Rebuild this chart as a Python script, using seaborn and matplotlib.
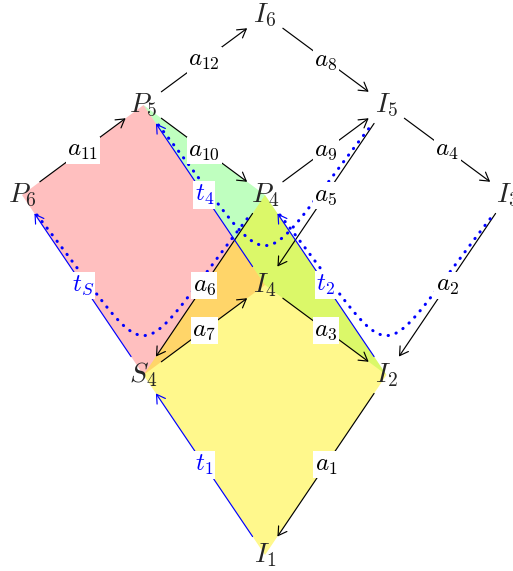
import numpy as np
import seaborn as sns
import matplotlib.pyplot as plt
from matplotlib.patches import Polygon

# node grid positions (columns / rows of the diagram)
node_names = ['I1', 'I2', 'I3', 'I4', 'I5', 'I6', 'P4', 'P5', 'P6', 'S4']
node_x = [2, 3, 4, 2, 3, 2, 2, 1, 0, 1]
node_y = [0, 2, 4, 3, 5, 6, 4, 5, 4, 2]
node_tex = ['$I_1$', '$I_2$', '$I_3$', '$I_4$', '$I_5$', '$I_6$', '$P_4$', '$P_5$', '$P_6$', '$S_4$']

# black edges
black_src = ['P5', 'I6', 'P6', 'P5', 'P4', 'I5', 'I5', 'I3', 'P4', 'S4', 'I4', 'I2']
black_dst = ['I6', 'I5', 'P5', 'P4', 'I5', 'I3', 'I4', 'I2', 'S4', 'I4', 'I2', 'I1']
black_lab = ['a_{12}', 'a_8', 'a_{11}', 'a_{10}', 'a_9', 'a_4', 'a_5', 'a_2', 'a_6', 'a_7', 'a_3', 'a_1']

# blue edges
blue_src = ['I1', 'S4', 'I4', 'I2']
blue_dst = ['S4', 'P6', 'P5', 'P4']
blue_lab = ['t_1', 't_S', 't_4', 't_2']

# shaded regions
pink_nodes = ['P6', 'P5', 'I4', 'S4']
green_nodes = ['P5', 'P4', 'I2', 'I4']
yellow_nodes = ['I1', 'S4', 'P4', 'I2']

# dotted U-shaped paths
curve_src = ['P6', 'P5', 'P4']
curve_dst = ['P4', 'I5', 'I3']

pos = {n: (x, y) for n, x, y in zip(node_names, node_x, node_y)}

sns.set_theme(style='white')
plt.rcParams['mathtext.fontset'] = 'cm'

fig = plt.figure(figsize=(5.13, 5.71), dpi=100)
ax = fig.add_axes([0, 0, 1, 1])
ax.set_xlim(-0.181, 4.041)
ax.set_ylim(-0.178, 6.167)
ax.axis('off')

for nodes, col, alpha in [(pink_nodes, (1, 0, 0), 0.25),
                          (green_nodes, (0, 1, 0), 0.25),
                          (yellow_nodes, (1, 0.94, 0), 0.45)]:
    ax.add_patch(Polygon([pos[n] for n in nodes], closed=True, facecolor=col,
                         alpha=alpha, edgecolor='none', zorder=1))


def edge(src, dst, lab, color):
    (x0, y0), (x1, y1) = pos[src], pos[dst]
    ax.annotate('', xy=(x1, y1), xytext=(x0, y0),
                arrowprops=dict(arrowstyle='->,head_length=0.5,head_width=0.3',
                                color=color, lw=0.85, shrinkA=16, shrinkB=16,
                                mutation_scale=12), zorder=3)
    ax.text((x0 + x1) / 2, (y0 + y1) / 2, f'${lab}$', color=color, fontsize=18,
            ha='center', va='center', zorder=5,
            bbox=dict(boxstyle='square,pad=0.06', fc='white', ec='none'))


for s, d, l in zip(black_src, black_dst, black_lab):
    edge(s, d, l, 'black')
for s, d, l in zip(blue_src, blue_dst, blue_lab):
    edge(s, d, l, 'blue')

# dotted curves: cubic beziers leaving each node at about -52 degrees
t = np.linspace(0, 1, 200)
for s, d in zip(curve_src, curve_dst):
    a = np.array(pos[s]) + [0.123, -0.222]
    b = np.array(pos[d]) + [-0.123, -0.222]
    c1 = a + [1.034, -1.787]
    c2 = b + [-1.034, -1.787]
    pts = ((1 - t) ** 3)[:, None] * a + (3 * (1 - t) ** 2 * t)[:, None] * c1 \
        + (3 * (1 - t) * t ** 2)[:, None] * c2 + (t ** 3)[:, None] * b
    ax.plot(pts[:, 0], pts[:, 1], color='blue', lw=2.2, linestyle=(0, (0.1, 2.6)),
            dash_capstyle='round', zorder=4)

for n, tex in zip(node_names, node_tex):
    ax.text(pos[n][0], pos[n][1], tex, fontsize=20, ha='center', va='center', zorder=6)

plt.savefig('out.png', dpi=100)
plt.close()
